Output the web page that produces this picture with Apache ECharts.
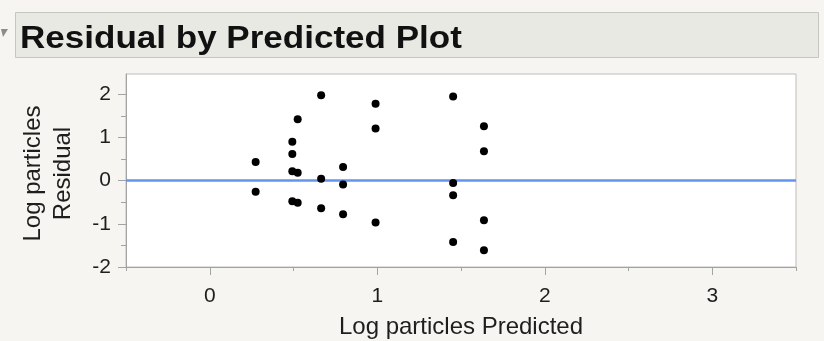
<!DOCTYPE html>
<html>
<head>
<meta charset="utf-8">
<title>Residual by Predicted Plot</title>
<script src="https://cdn.jsdelivr.net/npm/echarts@6/dist/echarts.min.js"></script>
<style>
  html, body { margin: 0; padding: 0; background: #f6f5f1; }
  #chart { width: 824px; height: 341px; }
</style>
</head>
<body>
<div id="chart"></div>
<script>
// Predicted values (Log particles Predicted) and their residuals
const predicted = [
  0.274, 0.274, 0.493, 0.493, 0.493, 0.525, 0.525, 0.493, 0.525,
  0.665, 0.665, 0.665, 0.796, 0.796, 0.796, 0.99, 0.99, 0.99,
  1.453, 1.453, 1.453, 1.453, 1.637, 1.637, 1.637, 1.637
];
const residual = [
  0.43, -0.26, 0.90, 0.62, 0.215, 0.18, 1.42, -0.48, -0.51,
  1.98, 0.045, -0.64, 0.315, -0.09, -0.78, 1.78, 1.21, -0.97,
  1.95, -0.055, -0.34, -1.42, 1.26, 0.68, -0.92, -1.61
];

// Axis tick positions
const xMajorTicks = [0, 1, 2, 3];
const xMinorTicks = [-0.5, 0.5, 1.5, 2.5, 3.5];
const yMajorTicks = [-2, -1, 0, 1, 2];
const yMinorTicks = [-1.5, -0.5, 0.5, 1.5];

const points = predicted.map((x, i) => [x, residual[i]]);

const FONT = 'Liberation Sans, Arial, Helvetica, sans-serif';
const AXIS_GRAY = '#a3a3a3';
const TEXT = '#1e1e1e';

const X_MIN = -0.5, X_MAX = 3.5, Y_MIN = -2, Y_MAX = 2.47;

const chart = echarts.init(document.getElementById('chart'), null, { renderer: 'canvas' });

chart.setOption({
  backgroundColor: '#f6f5f1',
  animation: false,
  graphic: [
    {
      type: 'rect',
      shape: { x: 15.5, y: 12.5, width: 803, height: 45 },
      style: { fill: '#e9e9e4', stroke: '#c6c6c1', lineWidth: 1 },
      z: 0
    },
    {
      type: 'polygon',
      shape: { points: [[1, 29], [8, 29], [3, 37]] },
      style: { fill: '#8c8c8c' }
    },
    {
      type: 'text',
      x: 20,
      y: 39.5,
      scaleX: 1.13,
      style: {
        text: 'Residual by Predicted Plot',
        font: 'bold 31px ' + FONT,
        fill: '#111111',
        textVerticalAlign: 'middle'
      },
      z: 2
    }
  ],
  grid: {
    left: 126, right: 28, top: 74, bottom: 74,
    outerBoundsMode: 'none',
    containLabel: false,
    show: true,
    backgroundColor: '#ffffff',
    borderColor: '#bdbdbd',
    borderWidth: 1
  },
  xAxis: [
    {
      type: 'value',
      min: X_MIN, max: X_MAX,
      position: 'bottom',
      name: 'Log particles Predicted',
      nameLocation: 'middle',
      nameGap: 48,
      nameTextStyle: { fontFamily: FONT, fontSize: 24, color: TEXT },
      axisLine: { show: true, onZero: false, lineStyle: { color: AXIS_GRAY, width: 1 } },
      axisTick: { show: true, length: 8, lineStyle: { color: AXIS_GRAY }, customValues: xMajorTicks },
      axisLabel: { show: true, margin: 19, fontFamily: FONT, fontSize: 21, color: TEXT, customValues: xMajorTicks },
      splitLine: { show: false }
    },
    {
      type: 'value',
      min: X_MIN, max: X_MAX,
      position: 'bottom',
      axisLine: { show: false, onZero: false },
      axisTick: { show: true, length: 4, lineStyle: { color: AXIS_GRAY }, customValues: xMinorTicks },
      axisLabel: { show: false },
      splitLine: { show: false }
    }
  ],
  yAxis: [
    {
      type: 'value',
      min: Y_MIN, max: Y_MAX,
      position: 'left',
      name: 'Log particles\nResidual',
      nameLocation: 'middle',
      nameRotate: 90,
      nameGap: 48,
      nameTextStyle: { fontFamily: FONT, fontSize: 24, color: TEXT, lineHeight: 30, align: 'center', padding: [0, 6, 0, 0] },
      axisLine: { show: true, onZero: false, lineStyle: { color: AXIS_GRAY, width: 1 } },
      axisTick: { show: true, length: 8, lineStyle: { color: AXIS_GRAY }, customValues: yMajorTicks },
      axisLabel: { show: true, margin: 15, fontFamily: FONT, fontSize: 21, color: TEXT, customValues: yMajorTicks },
      splitLine: { show: false }
    },
    {
      type: 'value',
      min: Y_MIN, max: Y_MAX,
      position: 'left',
      axisLine: { show: false, onZero: false },
      axisTick: { show: true, length: 5, lineStyle: { color: AXIS_GRAY }, customValues: yMinorTicks },
      axisLabel: { show: false },
      splitLine: { show: false }
    }
  ],
  series: [
    {
      type: 'scatter',
      xAxisIndex: 0,
      yAxisIndex: 0,
      data: points,
      symbol: 'circle',
      symbolSize: 8,
      itemStyle: { color: '#000000', opacity: 1 },
      z: 3,
      markLine: {
        silent: true,
        symbol: 'none',
        label: { show: false },
        lineStyle: { color: '#6295ef', width: 2.5, type: 'solid', opacity: 1 },
        data: [{ yAxis: 0 }],
        z: 2
      }
    }
  ]
});
</script>
</body>
</html>
